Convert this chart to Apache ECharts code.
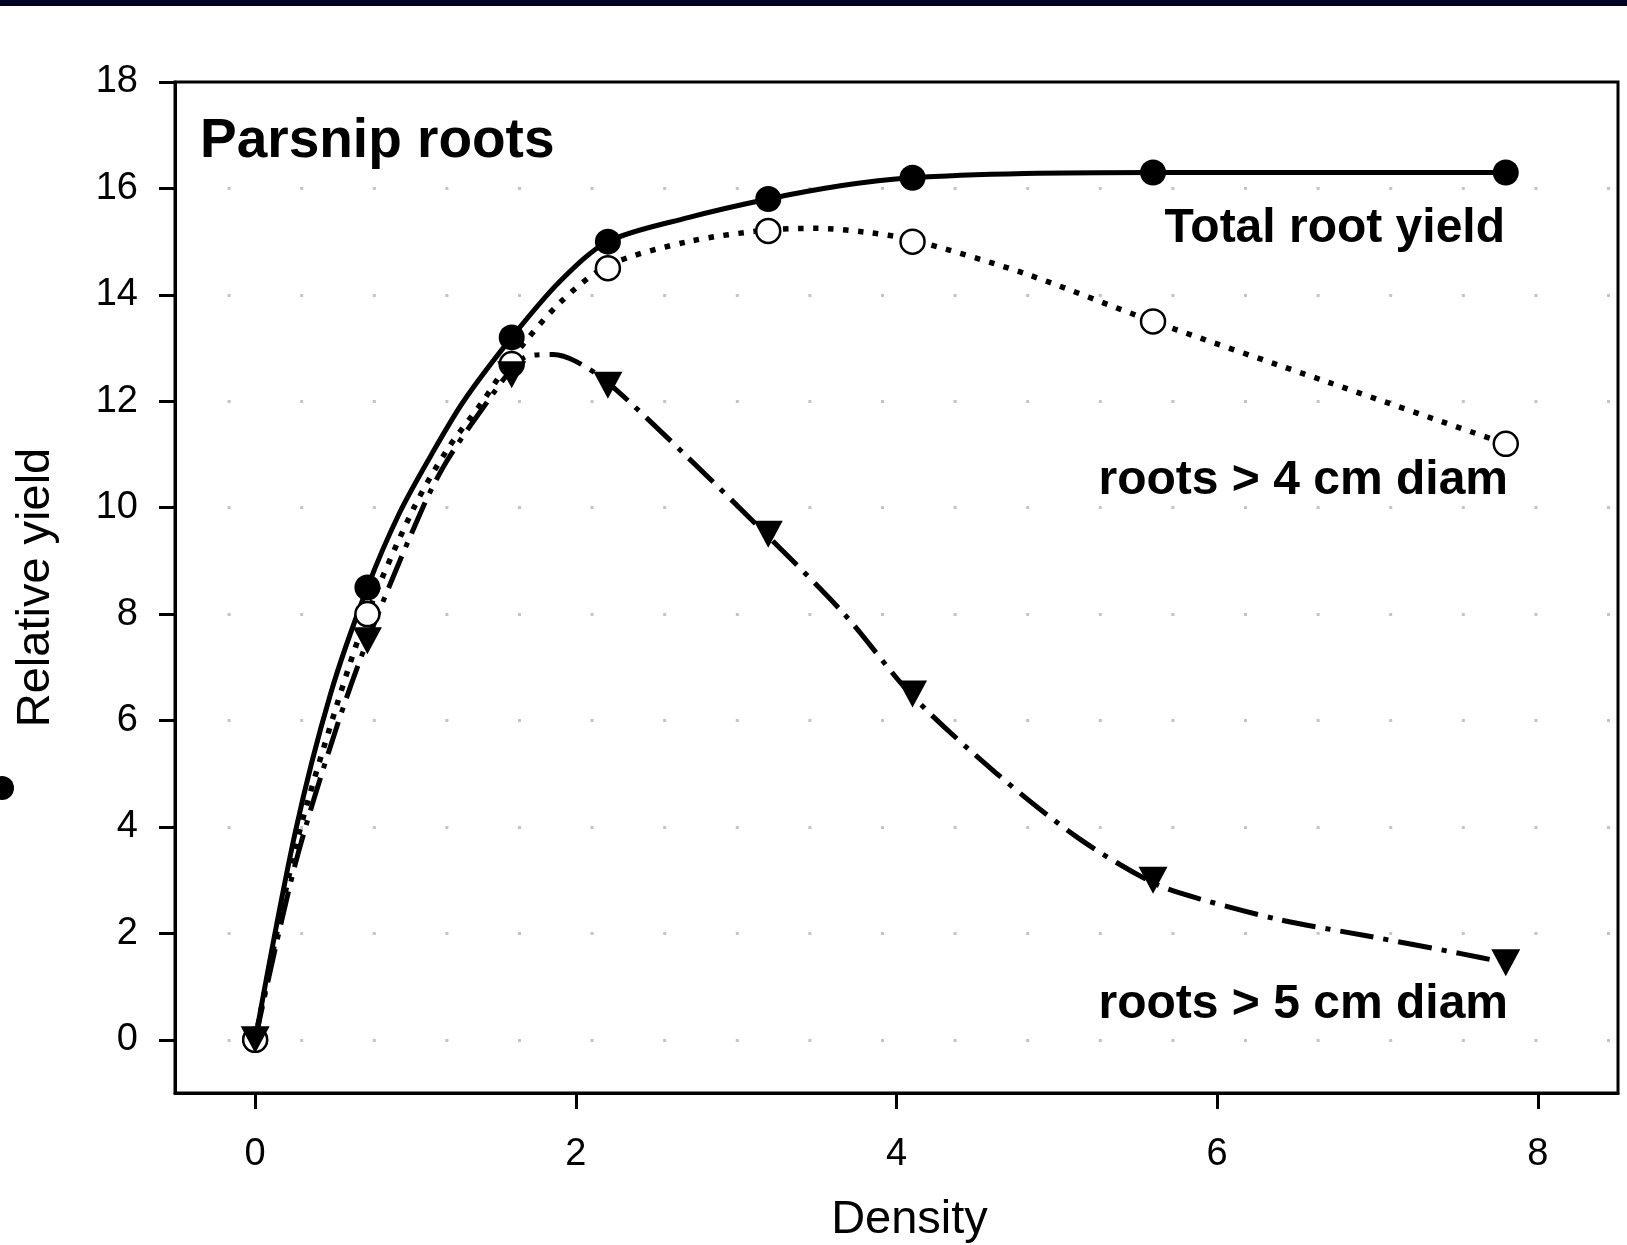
<!DOCTYPE html>
<html>
<head>
<meta charset="utf-8">
<script src="https://cdn.jsdelivr.net/npm/echarts@6/dist/echarts.min.js"></script>
<style>
  html, body { margin: 0; padding: 0; background: #fff; }
  #chart { width: 1627px; height: 1245px; }
</style>
</head>
<body>
<div id="chart"></div>
<script>
// measured points
var density = [0, 0.7, 1.6, 2.2, 3.2, 4.1, 5.6, 7.8];
var totalYield = [0, 8.5, 13.2, 15.0, 15.8, 16.2, 16.3, 16.3];
var over4cm = [0, 8.0, 12.7, 14.5, 15.2, 15.0, 13.5, 11.2];
var over5cm = [0, 7.5, 12.5, 12.3, 9.5, 6.5, 3.0, 1.45];

// fitted curves
var totalCurveX = [0, 0.25, 0.47, 0.7, 0.9, 1.1, 1.3, 1.6, 1.9, 2.2, 2.7, 3.2, 3.65, 4.1, 4.8, 5.6, 6.7, 7.8];
var totalCurveY = [0, 3.9, 6.5, 8.5, 9.9, 11.0, 12.0, 13.2, 14.25, 15.0, 15.45, 15.8, 16.05, 16.2, 16.28, 16.3, 16.3, 16.3];
var curve4X = [0, 0.25, 0.5, 0.7, 0.99, 1.2, 1.42, 1.6, 1.9, 2.2, 2.7, 3.2, 3.5, 3.8, 4.1, 4.8, 5.6, 6.7, 7.8];
var curve4Y = [0, 3.6, 6.2, 8.0, 10.0, 11.1, 12.0, 12.8, 13.85, 14.55, 15.0, 15.22, 15.25, 15.18, 15.03, 14.4, 13.5, 12.35, 11.2];
var curve5X = [0, 0.25, 0.5, 0.7, 1.045, 1.2, 1.45, 1.6, 1.7, 1.86, 2.0, 2.2, 2.7, 3.2, 3.68, 4.1, 4.63, 5.13, 5.6, 5.89, 6.4, 6.94, 7.52, 7.8];
var curve5Y = [0, 3.3, 5.8, 7.5, 10.0, 10.9, 12.0, 12.6, 12.85, 12.88, 12.75, 12.35, 10.94, 9.46, 7.98, 6.46, 4.99, 3.8, 2.95, 2.65, 2.25, 1.95, 1.62, 1.45];

var yTicks = [0, 2, 4, 6, 8, 10, 12, 14, 16, 18];
var xTicks = [0, 2, 4, 6, 8];

function pairs(xs, ys) {
  return xs.map(function (x, i) { return [x, ys[i]]; });
}

var chart = echarts.init(document.getElementById('chart'));
var font = 'Liberation Sans, Arial, sans-serif';

var option = {
  animation: false,
  backgroundColor: '#ffffff',
  grid: {
    left: 175, right: 9, top: 82, bottom: 152,
    outerBoundsMode: 'none', containLabel: false,
    show: true, borderColor: '#000', borderWidth: 3, backgroundColor: 'transparent'
  },
  xAxis: {
    type: 'value', min: -0.5, max: 8.5,
    name: 'Density', nameLocation: 'middle', nameGap: 104,
    nameTextStyle: { fontFamily: font, fontSize: 47, color: '#000', padding: [0, 0, 0, 26] },
    axisLine: { show: true, onZero: false, lineStyle: { color: '#000', width: 3 } },
    axisTick: { show: true, length: 16, lineStyle: { color: '#000', width: 3 }, customValues: xTicks },
    axisLabel: { fontFamily: font, fontSize: 38, color: '#000', margin: 43, customValues: xTicks },
    splitLine: { show: false }
  },
  yAxis: {
    type: 'value', min: -1, max: 18,
    name: 'Relative yield', nameLocation: 'middle', nameGap: 115,
    nameTextStyle: { fontFamily: font, fontSize: 47, color: '#000' },
    axisLine: { show: true, onZero: false, lineStyle: { color: '#000', width: 3 } },
    axisTick: { show: true, length: 16, lineStyle: { color: '#000', width: 3 }, customValues: yTicks },
    axisLabel: { fontFamily: font, fontSize: 38, color: '#000', margin: 37, customValues: yTicks },
    splitLine: {
      show: true, showMaxLine: false,
      lineStyle: { color: '#c4c4c4', width: 3, type: [3, 69.6], dashOffset: 20 }
    }
  },
  graphic: [
    { type: 'rect', shape: { x: 0, y: 0, width: 1627, height: 6 }, style: { fill: '#020224' } },
    { type: 'circle', shape: { cx: 2, cy: 788, r: 12 }, style: { fill: '#000' } },
    { type: 'text', left: 200, top: 114, style: { text: 'Parsnip roots', font: 'bold 55px ' + font, fill: '#000' } },
    { type: 'text', x: 1505, y: 229, style: { text: 'Total root yield', font: 'bold 48px ' + font, fill: '#000', textAlign: 'right', textVerticalAlign: 'middle' } },
    { type: 'text', x: 1508, y: 481, style: { text: 'roots > 4 cm diam', font: 'bold 48px ' + font, fill: '#000', textAlign: 'right', textVerticalAlign: 'middle' } },
    { type: 'text', x: 1508, y: 1005, style: { text: 'roots > 5 cm diam', font: 'bold 48px ' + font, fill: '#000', textAlign: 'right', textVerticalAlign: 'middle' } }
  ],
  series: [
    {
      type: 'line', data: pairs(curve4X, curve4Y), smooth: 0.3, showSymbol: false,
      lineStyle: { color: '#000', width: 5.5, type: [5.5, 9.5], cap: 'butt' }, z: 2
    },
    {
      type: 'line', data: pairs(curve5X, curve5Y), smooth: 0.3, showSymbol: false,
      lineStyle: { color: '#000', width: 5, type: [34, 10, 5, 10], cap: 'butt' }, z: 2
    },
    {
      type: 'line', data: pairs(totalCurveX, totalCurveY), smooth: 0.3, showSymbol: false,
      lineStyle: { color: '#000', width: 5 }, z: 2
    },
    {
      type: 'scatter', data: pairs(density, totalYield), symbol: 'circle', symbolSize: 26,
      itemStyle: { color: '#000', opacity: 1 }, z: 3
    },
    {
      type: 'scatter', data: pairs(density, over4cm), symbol: 'circle', symbolSize: 24,
      itemStyle: { color: '#fff', borderColor: '#000', borderWidth: 2.5, opacity: 1 }, z: 4
    },
    {
      type: 'scatter', data: pairs(density, over5cm), symbol: 'triangle', symbolRotate: 180, symbolSize: [29, 27],
      itemStyle: { color: '#000', opacity: 1 }, z: 5
    }
  ]
};

chart.setOption(option);
</script>
</body>
</html>
